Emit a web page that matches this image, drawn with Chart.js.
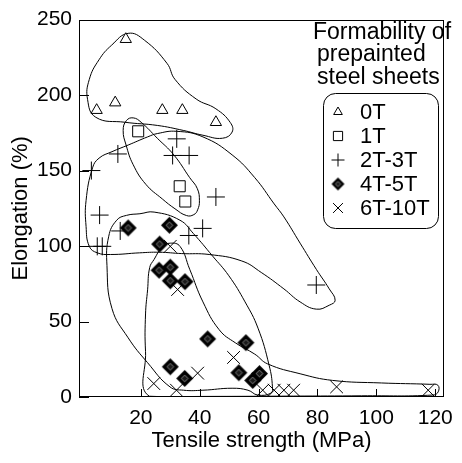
<!DOCTYPE html>
<html><head><meta charset="utf-8">
<script src="https://cdn.jsdelivr.net/npm/chart.js@4.4.1/dist/chart.umd.min.js"></script>
<style>html,body{margin:0;padding:0;background:#fff;}#wrap{width:462px;height:463px;position:relative;}</style>
</head><body><div id="wrap"><canvas id="c" width="462" height="463" style="width:462px;height:463px"></canvas></div>
<script>
// ---- data ----
const xTicks = [20, 40, 60, 80, 100, 120];
const yTicks = [0, 50, 100, 150, 200, 250];
const seriesNames = ['0T', '1T', '2T-3T', '4T-5T', '6T-10T'];
const legendTitle = ['Formability of', 'prepainted', 'steel sheets'];
const xTitle = 'Tensile strength (MPa)';
const yTitle = 'Elongation (%)';

const pts0T = [[14.9,237],[5.0,190],[11.3,195],[27.3,190],[34.1,190],[45.5,182]];
const pts1T = [[19.1,176],[33.2,139.6],[35.1,129.5]];
const pts2T3T = [[3.2,150],[12.2,161],[32.2,171],[30.8,160],[36.4,160],[45.5,132.5],[6.0,120.5],[5.2,99.8],[6.9,99.8],[13.0,110],[41.0,111.7],[36.3,107],[79.6,74.2]];
const pts4T5T = [[15.7,112],[29.7,113.8],[26.4,101.3],[26.2,84],[30.0,86],[30.0,77],[35.0,76.4],[42.7,38.5],[55.7,36],[30.0,20],[34.9,12.3],[53.3,16.1],[58.0,11],[60.3,15.5]];
const pts6T10T = [[30.0,99.8],[32.5,71.2],[24.4,8.9],[32.1,4.5],[39.3,15.8],[51.5,26.2],[61.4,4.5],[65.3,4.5],[68.6,4.5],[71.9,4.5],[86.5,6.7],[117.6,4.5]];

// enclosing outlines (closed curves)
const outline0T = [[15.7,240.9],[21.2,236.4],[28.9,221],[31.6,210.4],[38.8,197.4],[45.5,190.9],[50.4,181.8],[51.0,175.5],[47.7,171.4],[41.1,173.4],[34.4,176.6],[25.6,179.9],[14.6,182],[4.7,185.3],[1.9,197.2],[2.5,210.4],[5.8,223.4],[10.1,233.1]];
const outline1T = [[15.1,183.1],[17.4,184.9],[20.1,182],[25.6,171.4],[31.2,160.4],[36.6,145.3],[39.2,138],[39.9,130],[39.3,124],[38.0,120.8],[35.5,120.2],[31.6,124.7],[27.3,131.2],[21.7,140.9],[17.4,153.9],[15.0,166.9],[14.0,176.6]];
const outline2T3T = [[1.4,130.1],[3.6,151.8],[5.8,158.2],[10.2,162.5],[15.7,166.9],[22.3,172.3],[25.6,174.5],[32.2,176.0],[41.1,172.3],[51.0,160.4],[58.7,145.3],[65.3,127.9],[68.6,119.3],[74.1,101.9],[79.6,84.6],[84.0,71.6],[86.0,64.1],[84.0,60.8],[79.6,58.2],[74.1,63.0],[68.6,71.6],[60.9,82.5],[54.3,90.1],[43.2,94.4],[33.9,95.0],[26.2,95.9],[19.6,95.5],[9.7,94.4],[5.2,95.5],[2.5,99.8],[1.4,113.0]];
const outline4T5T = [[19.7,121.4],[24.5,122.5],[33.3,117.1],[37.8,108.4],[44.4,93.3],[49.9,80.3],[55.4,63.0],[59.8,45.6],[63.6,20.8],[64.7,6.7],[64.2,2.6],[59.7,1.3],[56.4,4.5],[51.0,5.8],[41.1,4.5],[34.5,4.5],[29.9,6.7],[22.3,22.7],[15.7,39.2],[10.2,58.6],[8.5,87.0],[9.1,106.5],[11.8,117.1],[15.1,120.3]];
const outline6T10T = [[22.9,0.5],[21.6,30],[21.6,55],[22.3,71],[23.0,85.7],[24.5,91.1],[27.3,99.4],[30.0,101.9],[33.3,99.8],[36.6,84.6],[41.1,63.0],[46.6,44.6],[52.1,35.9],[58.7,28.4],[63.1,21.9],[74.1,15.4],[85.1,11.0],[101.7,9.3],[118.2,8.4],[120.9,7.8],[121.0,3.4],[119.2,1.3],[95,0.8],[71.9,0.6],[45,0.4]];

// ---- helpers ----
const toXY = a => a.map(p => ({x: p[0], y: p[1]}));
function closed(a) { // wrap so the smoothing is continuous; first/last segments are hidden
  const n = a.length;
  return toXY([a[n-1], ...a, a[0], a[1]]);
}
function outlineDs(a) {
  const n = a.length + 3;
  return {
    data: closed(a), showLine: true, pointRadius: 0, pointHoverRadius: 0,
    borderColor: '#000', borderWidth: 1, tension: 0.45, fill: false, order: 2,
    segment: { borderColor: c => (c.p0DataIndex === 0 || c.p1DataIndex === n - 1) ? 'rgba(0,0,0,0)' : '#000' }
  };
}
function diamondCanvas(r) {
  const s = Math.ceil(r * 2 + 2), cv = document.createElement('canvas');
  cv.width = s; cv.height = s;
  const g = cv.getContext('2d'), c = s / 2;
  g.beginPath(); g.moveTo(c, c - r); g.lineTo(c + r, c); g.lineTo(c, c + r); g.lineTo(c - r, c); g.closePath();
  g.fillStyle = '#000'; g.fill();
  const q = r * 0.4;
  g.beginPath(); g.moveTo(c, c - q); g.lineTo(c + q, c); g.lineTo(c, c + q); g.lineTo(c - q, c); g.closePath();
  g.fillStyle = '#1a1a1a'; g.fill();
  g.strokeStyle = '#9a9a9a'; g.lineWidth = 0.8; g.stroke();
  return cv;
}
const diamondImg = diamondCanvas(8.5);
const diamondSmall = diamondCanvas(6.5);

const FONT = '"Liberation Sans", Arial, Helvetica, sans-serif';

function drawSym(ctx, kind, x, y, r) {
  ctx.save();
  ctx.strokeStyle = '#000'; ctx.fillStyle = '#fff'; ctx.lineWidth = 1;
  ctx.beginPath();
  if (kind === 0) {
    const h = r * Math.sqrt(3) / 2;
    ctx.moveTo(x, y - r); ctx.lineTo(x + h, y + r / 2); ctx.lineTo(x - h, y + r / 2); ctx.closePath();
    ctx.fill(); ctx.stroke();
  } else if (kind === 1) {
    const s = r * Math.SQRT1_2;
    ctx.rect(x - s, y - s, 2 * s, 2 * s); ctx.fill(); ctx.stroke();
  } else if (kind === 2) {
    ctx.moveTo(x - r, y); ctx.lineTo(x + r, y); ctx.moveTo(x, y - r); ctx.lineTo(x, y + r); ctx.stroke();
  } else if (kind === 3) {
    ctx.drawImage(diamondSmall, x - diamondSmall.width / 2, y - diamondSmall.height / 2);
  } else {
    const d = r * Math.SQRT1_2;
    ctx.moveTo(x - d, y - d); ctx.lineTo(x + d, y + d); ctx.moveTo(x + d, y - d); ctx.lineTo(x - d, y + d); ctx.stroke();
  }
  ctx.restore();
}

const decor = {
  id: 'decor',
  afterDatasetsDraw(chart) {
    const {ctx, chartArea: a, scales: {x, y}} = chart;
    ctx.save();
    ctx.strokeStyle = '#000'; ctx.lineWidth = 1;
    ctx.strokeRect(Math.round(a.left) + 0.5, Math.round(a.top) + 0.5, Math.round(a.right - a.left) - 1, Math.round(a.bottom - a.top) - 1);
    ctx.beginPath();
    xTicks.forEach(v => { const px = Math.round(x.getPixelForValue(v)) + 0.5; ctx.moveTo(px, a.bottom); ctx.lineTo(px, a.bottom - 8); });
    yTicks.forEach(v => { const py = Math.round(y.getPixelForValue(v)) + 0.5; ctx.moveTo(a.left, py); ctx.lineTo(a.left + 10, py); });
    ctx.stroke();

    // legend title
    ctx.fillStyle = '#000';
    ctx.font = '23px ' + FONT;
    ctx.textBaseline = 'alphabetic'; ctx.textAlign = 'left';
    ctx.fillText(legendTitle[0], 313, 39);
    ctx.fillText(legendTitle[1], 317, 61);
    ctx.fillText(legendTitle[2], 317, 84);
    // legend box
    ctx.beginPath();
    ctx.roundRect(323.5, 93.5, 115, 135, 12);
    ctx.fillStyle = '#fff'; ctx.fill(); ctx.stroke();
    const rows = [112, 136, 160, 184, 208];
    const radii = [5, 6.5, 6.5, 6.5, 7];
    ctx.textBaseline = 'middle';
    seriesNames.forEach((nm, i) => {
      drawSym(ctx, i, 338, rows[i], radii[i]);
      ctx.fillStyle = '#000';
      ctx.font = '22px ' + FONT;
      ctx.fillText(nm, 360, rows[i] + 1);
    });
    ctx.restore();
  }
};

new Chart(document.getElementById('c'), {
  type: 'scatter',
  data: {
    datasets: [
      {label: seriesNames[0], data: toXY(pts0T), pointStyle: 'triangle', pointRadius: 6.5, backgroundColor: '#fff', borderColor: '#000', borderWidth: 1, order: 1},
      {label: seriesNames[1], data: toXY(pts1T), pointStyle: 'rect', pointRadius: 7.8, backgroundColor: '#fff', borderColor: '#000', borderWidth: 1, order: 1},
      {label: seriesNames[2], data: toXY(pts2T3T), pointStyle: 'cross', pointRadius: 9, backgroundColor: '#000', borderColor: '#000', borderWidth: 1, order: 1},
      {label: seriesNames[3], data: toXY(pts4T5T), pointStyle: diamondImg, pointRadius: 8.5, order: 0},
      {label: seriesNames[4], data: toXY(pts6T10T), pointStyle: 'crossRot', pointRadius: 9, backgroundColor: '#000', borderColor: '#000', borderWidth: 1, order: 1},
      outlineDs(outline0T), outlineDs(outline1T), outlineDs(outline2T3T), outlineDs(outline4T5T), outlineDs(outline6T10T)
    ]
  },
  options: {
    responsive: false, animation: false, events: [], devicePixelRatio: 1,
    layout: {padding: {top: 13, right: 7, left: 0, bottom: 0}},
    plugins: {legend: {display: false}, tooltip: {enabled: false}},
    scales: {
      x: {
        type: 'linear', min: -1, max: 123,
        afterBuildTicks: s => { s.ticks = xTicks.map(v => ({value: v})); },
        afterFit: s => { s.height = 66; },
        grid: {display: false, drawTicks: false}, border: {display: false},
        ticks: {color: '#000', font: {family: FONT, size: 21}, padding: 9, maxRotation: 0, autoSkip: false},
        title: {display: true, text: xTitle, color: '#000', font: {family: FONT, size: 22}, padding: {top: 0, bottom: 9}}
      },
      y: {
        type: 'linear', min: 0, max: 250,
        afterBuildTicks: s => { s.ticks = yTicks.map(v => ({value: v})); },
        afterFit: s => { s.width = 79; },
        grid: {display: false, drawTicks: false}, border: {display: false},
        ticks: {color: '#000', font: {family: FONT, size: 21}, padding: 7, autoSkip: false},
        title: {display: true, text: yTitle, color: '#000', font: {family: FONT, size: 22}, padding: {top: 8, bottom: 0}}
      }
    }
  },
  plugins: [decor]
});
</script></body></html>
